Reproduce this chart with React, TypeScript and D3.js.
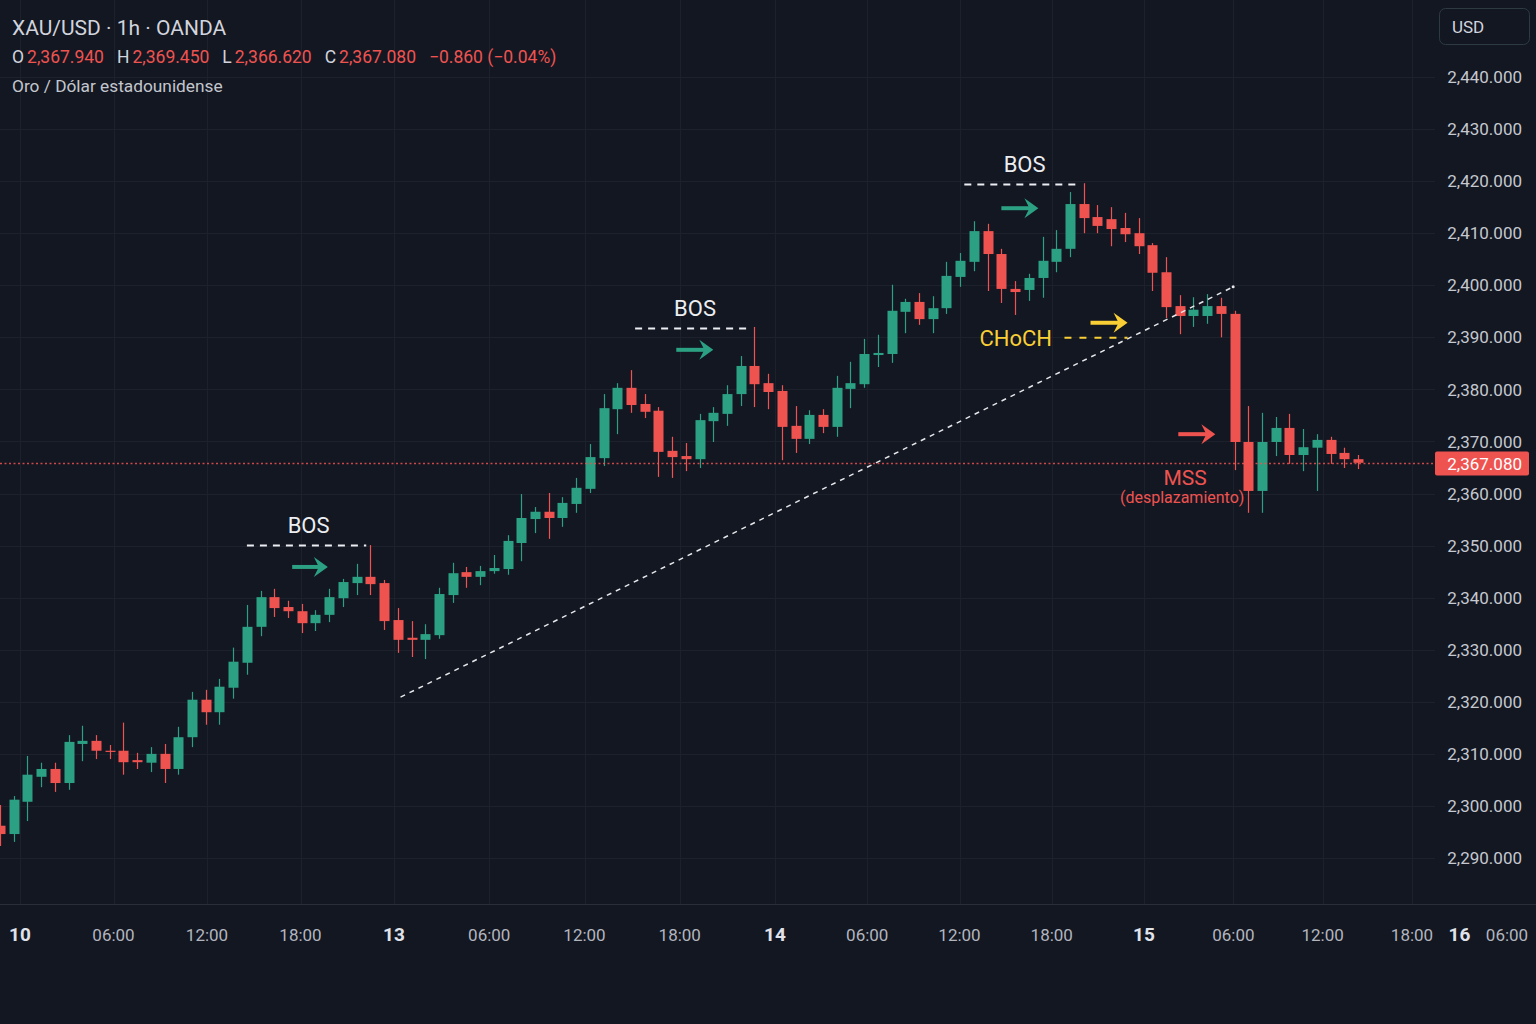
import React, { useRef, useEffect } from "react";
import * as d3 from "d3";

// XAU/USD 1h candles
const opens = [
  2296.2, 2294.6, 2300.8, 2305.6, 2307.1, 2304.4, 2311.9, 2312.5, 2310.6, 2310.6,
  2308.8, 2308.3, 2310.0, 2307.1, 2313.2, 2320.4, 2318.0, 2322.7, 2327.5, 2334.4,
  2340.1, 2338.2, 2337.4, 2335.1, 2336.7, 2339.9, 2342.8, 2344.0, 2342.8, 2335.7,
  2332.3, 2331.9, 2332.8, 2340.5, 2344.9, 2344.0, 2345.1, 2345.5, 2350.5, 2355.1,
  2356.5, 2355.3, 2358.0, 2360.9, 2366.8, 2376.2, 2380.3, 2377.2, 2375.9, 2368.2,
  2367.2, 2366.6, 2373.9, 2375.3, 2379.1, 2384.5, 2381.2, 2379.7, 2373.0, 2370.5,
  2375.1, 2372.8, 2380.1, 2381.0, 2386.6, 2386.8, 2394.9, 2396.8, 2393.5, 2395.6,
  2401.6, 2404.5, 2410.4, 2406.0, 2399.3, 2399.1, 2401.4, 2404.5, 2407.0, 2415.6,
  2413.1, 2412.7, 2411.0, 2410.0, 2407.7, 2402.5, 2396.0, 2394.1, 2394.1, 2396.0,
  2394.5, 2369.9, 2360.5, 2369.9, 2372.6, 2367.4, 2368.8, 2370.3, 2367.8, 2366.6,
];
const highs = [
  2300.2, 2301.9, 2309.6, 2308.3, 2308.3, 2313.6, 2315.4, 2313.6, 2311.7, 2316.0,
  2310.2, 2311.3, 2311.9, 2315.2, 2321.9, 2322.3, 2324.4, 2330.4, 2338.6, 2341.3,
  2341.7, 2339.4, 2338.8, 2337.6, 2341.7, 2343.6, 2346.5, 2350.1, 2343.4, 2338.0,
  2335.5, 2334.9, 2341.9, 2346.7, 2345.9, 2346.1, 2348.2, 2352.0, 2359.9, 2357.4,
  2360.1, 2359.3, 2363.0, 2369.5, 2379.1, 2381.2, 2383.7, 2379.1, 2376.6, 2370.9,
  2369.7, 2375.3, 2376.6, 2380.8, 2386.4, 2392.0, 2383.0, 2380.8, 2376.8, 2376.0,
  2376.2, 2382.6, 2385.3, 2389.7, 2390.5, 2400.1, 2397.4, 2398.5, 2397.9, 2404.5,
  2406.2, 2412.3, 2411.8, 2407.0, 2400.8, 2402.2, 2409.3, 2410.6, 2417.9, 2419.6,
  2415.4, 2415.0, 2413.9, 2412.9, 2408.1, 2405.4, 2398.1, 2397.7, 2398.3, 2397.6,
  2395.1, 2376.8, 2375.5, 2374.7, 2375.3, 2372.4, 2371.4, 2370.9, 2368.8, 2367.4,
];
const lows = [
  2292.3, 2293.1, 2297.1, 2303.6, 2302.7, 2303.1, 2308.6, 2309.0, 2309.0, 2306.0,
  2307.1, 2306.5, 2304.4, 2306.0, 2311.3, 2315.6, 2315.6, 2320.6, 2325.2, 2332.6,
  2336.3, 2336.1, 2333.2, 2333.6, 2335.3, 2338.2, 2340.5, 2340.5, 2333.8, 2329.4,
  2328.6, 2328.2, 2332.1, 2339.0, 2341.9, 2342.4, 2344.6, 2344.4, 2347.0, 2352.4,
  2351.3, 2353.6, 2356.3, 2360.1, 2365.3, 2371.4, 2375.5, 2374.5, 2363.2, 2363.0,
  2364.3, 2364.9, 2369.9, 2373.0, 2376.8, 2376.6, 2376.2, 2366.4, 2367.8, 2369.5,
  2371.6, 2370.9, 2376.4, 2380.3, 2384.3, 2385.1, 2390.8, 2392.4, 2390.8, 2394.5,
  2399.7, 2402.7, 2398.9, 2396.6, 2394.3, 2397.0, 2397.6, 2402.5, 2405.4, 2410.0,
  2410.0, 2407.5, 2408.3, 2406.0, 2398.9, 2393.7, 2390.6, 2392.0, 2392.6, 2390.0,
  2364.5, 2356.3, 2356.3, 2367.2, 2365.7, 2364.3, 2360.5, 2365.7, 2364.9, 2364.7,
];
const closes = [
  2294.6, 2301.2, 2306.0, 2307.1, 2304.4, 2312.3, 2312.5, 2310.6, 2310.4, 2308.4,
  2308.4, 2310.0, 2307.1, 2313.2, 2320.4, 2318.0, 2322.9, 2327.7, 2334.4, 2340.1,
  2338.0, 2337.4, 2335.1, 2336.7, 2340.1, 2343.0, 2344.0, 2342.6, 2335.5, 2331.9,
  2331.9, 2333.0, 2340.7, 2344.7, 2344.0, 2345.1, 2345.7, 2350.9, 2355.3, 2356.5,
  2355.3, 2358.2, 2361.1, 2367.0, 2376.4, 2380.3, 2377.0, 2375.7, 2368.0, 2367.0,
  2366.6, 2374.1, 2375.5, 2379.1, 2384.5, 2381.0, 2379.5, 2372.8, 2370.5, 2375.1,
  2372.8, 2380.3, 2381.2, 2386.8, 2387.0, 2395.1, 2396.8, 2393.5, 2395.6, 2401.8,
  2404.7, 2410.4, 2406.0, 2399.3, 2398.7, 2401.4, 2404.7, 2407.0, 2415.6, 2412.9,
  2411.4, 2410.8, 2409.8, 2407.5, 2402.4, 2395.8, 2394.1, 2395.3, 2396.0, 2394.5,
  2369.9, 2360.5, 2369.9, 2372.6, 2367.4, 2368.9, 2370.3, 2367.6, 2366.6, 2365.9,
];

const priceTicks = [
  2290, 2300, 2310, 2320, 2330, 2340, 2350, 2360, 2370, 2380, 2390, 2400, 2410,
  2420, 2430, 2440,
];

// horas desde el día 10 a las 00:00 (eje tal como aparece en la imagen)
const timeTickHours = [0, 6, 12, 18, 24, 30, 36, 42, 48, 54, 60, 66, 72, 78, 84, 90, 93, 96];
const timeTickLabels = [
  "10", "06:00", "12:00", "18:00", "13", "06:00", "12:00", "18:00", "14",
  "06:00", "12:00", "18:00", "15", "06:00", "12:00", "18:00", "16", "06:00",
];

const quoteLabels = ["O", "H", "L", "C"];
const quoteValues = [2367.94, 2369.45, 2366.62, 2367.08];
const quoteChange = [-0.86, -0.04];

// BOS: línea del máximo roto (índices de vela) y flecha
const bosLevels = [
  { from: 18.0, to: 26.7, price: 2350.1, arrowFrom: 21.3, arrowTo: 23.9, arrowPrice: 2345.9 },
  { from: 46.3, to: 54.75, price: 2391.8, arrowFrom: 49.3, arrowTo: 52.0, arrowPrice: 2387.6 },
  { from: 70.3, to: 78.8, price: 2419.45, arrowFrom: 73.0, arrowTo: 75.7, arrowPrice: 2414.8 },
];
const chochMark = { textAt: 71.4, from: 77.6, to: 82.2, price: 2389.9, arrowFrom: 79.5, arrowTo: 82.2, arrowPrice: 2392.8 };
const trendLine = [
  [29.2, 2320.9],
  [89.9, 2399.7],
];
const mssMark = { textAt: 86.4, price: 2363.4, arrowFrom: 85.9, arrowTo: 88.6, arrowPrice: 2371.4 };

const W = 1536;
const H = 1024;
const FONT = "Roboto, 'Noto Sans', sans-serif";
const BG = "#131722";
const GRID = "#1d212c";
const GREEN = "#2ca082";
const RED = "#ef5350";
const YELLOW = "#f9cf35";
const TEXT = "#d1d4dc";
const MUTED = "#b2b5be";

const App = () => {
  const d3Container = useRef(null);

  useEffect(() => {
    const container = d3Container.current;
    if (!container) return;
    d3.select(container).selectChildren().remove();

    const plotRight = 1435;
    const plotBottom = 904;

    const x = d3.scaleLinear().domain([0, closes.length - 1]).range([0, 1358]);
    const y = d3.scaleLinear().domain([2290, 2440]).range([858, 77]);
    const xt = d3
      .scaleLinear()
      .domain([0, 24, 48, 72, 90, 96])
      .range([20, 394, 775, 1144, 1412, 1507]);

    const svg = d3
      .select(container)
      .append("g")
      .style("font-family", FONT);

    svg.append("rect").attr("width", W).attr("height", H).attr("fill", BG);

    // Rejilla
    svg
      .append("g")
      .selectAll("line")
      .data(priceTicks)
      .join("line")
      .attr("x1", 0)
      .attr("x2", plotRight)
      .attr("y1", (d) => Math.round(y(d)) + 0.5)
      .attr("y2", (d) => Math.round(y(d)) + 0.5)
      .attr("stroke", GRID);

    svg
      .append("g")
      .selectAll("line")
      .data(timeTickHours.filter((h) => xt(h) < plotRight))
      .join("line")
      .attr("x1", (d) => Math.round(xt(d)) + 0.5)
      .attr("x2", (d) => Math.round(xt(d)) + 0.5)
      .attr("y1", 0)
      .attr("y2", plotBottom)
      .attr("stroke", GRID);

    svg
      .append("line")
      .attr("x1", 0)
      .attr("x2", W)
      .attr("y1", plotBottom + 0.5)
      .attr("y2", plotBottom + 0.5)
      .attr("stroke", "#2a2e39");

    // Velas
    const idx = d3.range(closes.length);
    const candle = svg
      .append("g")
      .selectAll("g")
      .data(idx)
      .join("g")
      .attr("fill", (i) => (closes[i] >= opens[i] ? GREEN : RED))
      .attr("stroke", (i) => (closes[i] >= opens[i] ? GREEN : RED));

    candle
      .append("line")
      .attr("x1", (i) => Math.round(x(i)) + 0.5)
      .attr("x2", (i) => Math.round(x(i)) + 0.5)
      .attr("y1", (i) => y(highs[i]))
      .attr("y2", (i) => y(lows[i]))
      .attr("stroke-width", 1.2);

    candle
      .append("rect")
      .attr("stroke", "none")
      .attr("x", (i) => Math.round(x(i)) - 4.5)
      .attr("width", 10)
      .attr("y", (i) => y(Math.max(opens[i], closes[i])))
      .attr("height", (i) => Math.max(1.2, Math.abs(y(opens[i]) - y(closes[i]))));

    // Línea de precio actual
    const lastY = Math.round(y(closes[closes.length - 1])) + 0.5;
    svg
      .append("line")
      .attr("x1", 0)
      .attr("x2", plotRight)
      .attr("y1", lastY)
      .attr("y2", lastY)
      .attr("stroke", RED)
      .attr("stroke-width", 1.3)
      .attr("stroke-dasharray", "2,2.5")
      .attr("opacity", 0.85);

    // Flechas
    const arrow = (x0, x1, yy, color) => {
      const g = svg.append("g");
      g.append("line")
        .attr("x1", x0)
        .attr("x2", x1 - 8)
        .attr("y1", yy)
        .attr("y2", yy)
        .attr("stroke", color)
        .attr("stroke-width", 4);
      g.append("path")
        .attr(
          "d",
          `M${x1 - 14},${yy - 10} L${x1},${yy} L${x1 - 14},${yy + 10} L${x1 - 9},${yy} Z`
        )
        .attr("fill", color);
    };

    // Línea de tendencia
    svg
      .append("line")
      .attr("x1", x(trendLine[0][0]))
      .attr("y1", y(trendLine[0][1]))
      .attr("x2", x(trendLine[1][0]))
      .attr("y2", y(trendLine[1][1]))
      .attr("stroke", "#e6e7ea")
      .attr("stroke-width", 1.5)
      .attr("stroke-dasharray", "5,5");
    svg
      .append("circle")
      .attr("cx", x(trendLine[1][0]))
      .attr("cy", y(trendLine[1][1]))
      .attr("r", 1.5)
      .attr("fill", "#e6e7ea");

    // BOS
    bosLevels.forEach((b) => {
      const ly = Math.round(y(b.price)) + 0.5;
      svg
        .append("line")
        .attr("x1", x(b.from))
        .attr("x2", x(b.to))
        .attr("y1", ly)
        .attr("y2", ly)
        .attr("stroke", "#eceef1")
        .attr("stroke-width", 2)
        .attr("stroke-dasharray", "7,6");
      svg
        .append("text")
        .attr("x", (x(b.from) + x(b.to)) / 2 + 2)
        .attr("y", ly - 13)
        .attr("text-anchor", "middle")
        .attr("font-size", 22)
        .attr("fill", "#eceef1")
        .text("BOS");
      arrow(x(b.arrowFrom), x(b.arrowTo), y(b.arrowPrice), GREEN);
    });

    // CHoCH
    const cy = y(chochMark.price);
    svg
      .append("text")
      .attr("x", x(chochMark.textAt))
      .attr("y", cy + 8)
      .attr("font-size", 22)
      .attr("fill", YELLOW)
      .text("CHoCH");
    svg
      .append("line")
      .attr("x1", x(chochMark.from))
      .attr("x2", x(chochMark.to))
      .attr("y1", cy)
      .attr("y2", cy)
      .attr("stroke", YELLOW)
      .attr("stroke-width", 2)
      .attr("stroke-dasharray", "7,8");
    arrow(x(chochMark.arrowFrom), x(chochMark.arrowTo), y(chochMark.arrowPrice), YELLOW);

    // MSS
    arrow(x(mssMark.arrowFrom), x(mssMark.arrowTo), y(mssMark.arrowPrice), RED);
    svg
      .append("text")
      .attr("x", x(mssMark.textAt))
      .attr("y", y(mssMark.price) + 9)
      .attr("text-anchor", "middle")
      .attr("font-size", 21)
      .attr("fill", RED)
      .text("MSS");
    svg
      .append("text")
      .attr("x", x(mssMark.textAt) - 3)
      .attr("y", y(mssMark.price) + 27)
      .attr("text-anchor", "middle")
      .attr("font-size", 16)
      .attr("fill", RED)
      .text("(desplazamiento)");

    // Eje de precios
    const fmt = d3.format(",.3f");
    svg
      .append("g")
      .selectAll("text")
      .data(priceTicks)
      .join("text")
      .attr("x", 1522)
      .attr("y", (d) => y(d))
      .attr("dy", "0.36em")
      .attr("text-anchor", "end")
      .attr("font-size", 17)
      .attr("fill", "#c5c8cf")
      .text((d) => fmt(d));

    // Etiqueta del último precio
    svg
      .append("rect")
      .attr("x", plotRight)
      .attr("y", lastY - 12)
      .attr("width", 94)
      .attr("height", 24)
      .attr("rx", 2)
      .attr("fill", RED);
    svg
      .append("text")
      .attr("x", 1522)
      .attr("y", lastY)
      .attr("dy", "0.36em")
      .attr("text-anchor", "end")
      .attr("font-size", 17)
      .attr("fill", "#ffffff")
      .text(fmt(quoteValues[3]));

    // Botón USD
    svg
      .append("rect")
      .attr("x", 1439.5)
      .attr("y", 8.5)
      .attr("width", 90)
      .attr("height", 36)
      .attr("rx", 6)
      .attr("fill", BG)
      .attr("stroke", "#2d3b40");
    svg
      .append("text")
      .attr("x", 1452)
      .attr("y", 33)
      .attr("font-size", 17)
      .attr("fill", TEXT)
      .text("USD");

    // Eje de tiempo
    svg
      .append("g")
      .selectAll("text")
      .data(timeTickHours)
      .join("text")
      .attr("x", (d) => xt(d))
      .attr("y", 941)
      .attr("text-anchor", "middle")
      .attr("font-size", (_, i) => (timeTickLabels[i].includes(":") ? 17 : 19))
      .attr("font-weight", (_, i) => (timeTickLabels[i].includes(":") ? 400 : 700))
      .attr("fill", (_, i) => (timeTickLabels[i].includes(":") ? MUTED : "#e0e3eb"))
      .text((_, i) => timeTickLabels[i]);

    // Cabecera
    svg
      .append("text")
      .attr("x", 12)
      .attr("y", 35)
      .attr("font-size", 21)
      .attr("fill", TEXT)
      .text("XAU/USD · 1h · OANDA");

    const line2 = svg.append("text").attr("x", 12).attr("y", 63).attr("font-size", 17.5);
    quoteLabels.forEach((l, i) => {
      line2
        .append("tspan")
        .attr("dx", i ? 13 : 0)
        .attr("fill", TEXT)
        .text(l);
      line2
        .append("tspan")
        .attr("dx", 3)
        .attr("fill", RED)
        .text(fmt(quoteValues[i]));
    });
    line2
      .append("tspan")
      .attr("dx", 13)
      .attr("fill", RED)
      .text(`${d3.format(".3f")(quoteChange[0])} (${d3.format(".2f")(quoteChange[1])}%)`);

    svg
      .append("text")
      .attr("x", 12)
      .attr("y", 92)
      .attr("font-size", 17.3)
      .attr("fill", "#c3c6cd")
      .text("Oro / Dólar estadounidense");
  }, []);

  return (
    <svg
      ref={d3Container}
      width={W}
      height={H}
      style={{ position: "absolute", left: 0, top: 0, display: "block" }}
    />
  );
};

export default App;
